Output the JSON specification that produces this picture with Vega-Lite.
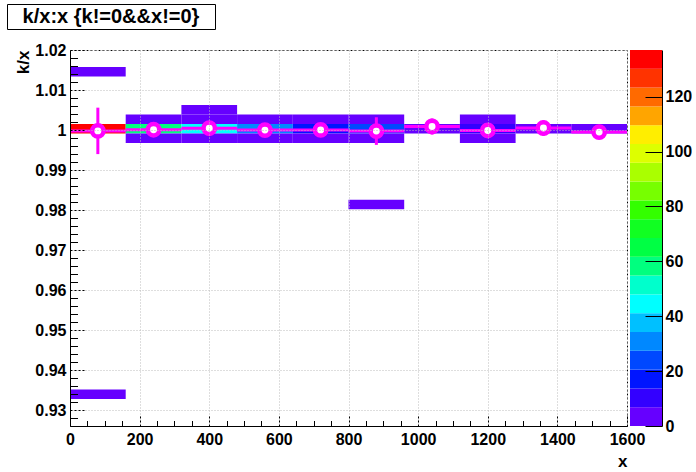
{
  "$schema": "https://vega.github.io/schema/vega-lite/v6.json",
  "padding": {"left": 6, "top": 3, "right": 0, "bottom": 0},
  "background": "white",
  "config": {
    "font": "Liberation Sans",
    "view": {"stroke": null},
    "axis": {
      "labelFont": "Liberation Sans", "labelFontWeight": "bold", "labelFontSize": 16, "labelColor": "black",
      "titleFont": "Liberation Sans", "titleFontWeight": "bold", "titleFontSize": 17, "titleColor": "black",
      "domainColor": "black", "tickColor": "black", "labelFlush": false, "labelOverlap": false
    }
  },
  "columns": 1,
  "spacing": 11,
  "concat": [
    {
      "width": 208, "height": 25,
      "view": {"stroke": "black", "strokeWidth": 1},
      "data": {"values": [{"t": "k/x:x {k!=0&&x!=0}"}]},
      "mark": {"type": "text", "font": "Liberation Sans", "fontWeight": "bold", "fontSize": 20, "color": "black"},
      "encoding": {"text": {"field": "t", "type": "nominal"}}
    },
    {
      "spacing": 3,
      "bounds": "flush",
      "hconcat": [
        {
          "width": 60, "height": 376,
          "data": {"values": []},
          "mark": {"type": "point", "opacity": 0}
        },
        {
          "width": 557, "height": 376,
          "view": {"stroke": "black", "strokeDash": [2, 2], "strokeWidth": 1},
          "resolve": {"axis": {"x": "independent", "y": "independent"}},
          "layer": [
            {
              "data": {"values": [
                {"xlo": 0, "xhi": 160, "ylo": 1.013376, "yhi": 1.015744, "count": 2},
                {"xlo": 0, "xhi": 160, "ylo": 0.999168, "yhi": 1.001536, "count": 136},
                {"xlo": 0, "xhi": 160, "ylo": 0.932864, "yhi": 0.935232, "count": 2},
                {"xlo": 160, "xhi": 320, "ylo": 1.001536, "yhi": 1.003904, "count": 4},
                {"xlo": 160, "xhi": 320, "ylo": 0.999168, "yhi": 1.001536, "count": 58},
                {"xlo": 160, "xhi": 320, "ylo": 0.9968, "yhi": 0.999168, "count": 4},
                {"xlo": 320, "xhi": 480, "ylo": 1.003904, "yhi": 1.006272, "count": 2},
                {"xlo": 320, "xhi": 480, "ylo": 1.001536, "yhi": 1.003904, "count": 5},
                {"xlo": 320, "xhi": 480, "ylo": 0.999168, "yhi": 1.001536, "count": 45},
                {"xlo": 320, "xhi": 480, "ylo": 0.9968, "yhi": 0.999168, "count": 4},
                {"xlo": 480, "xhi": 640, "ylo": 1.001536, "yhi": 1.003904, "count": 5},
                {"xlo": 480, "xhi": 640, "ylo": 0.999168, "yhi": 1.001536, "count": 31},
                {"xlo": 480, "xhi": 640, "ylo": 0.9968, "yhi": 0.999168, "count": 5},
                {"xlo": 640, "xhi": 800, "ylo": 1.001536, "yhi": 1.003904, "count": 4},
                {"xlo": 640, "xhi": 800, "ylo": 0.999168, "yhi": 1.001536, "count": 17},
                {"xlo": 640, "xhi": 800, "ylo": 0.9968, "yhi": 0.999168, "count": 3},
                {"xlo": 800, "xhi": 960, "ylo": 1.001536, "yhi": 1.003904, "count": 3},
                {"xlo": 800, "xhi": 960, "ylo": 0.999168, "yhi": 1.001536, "count": 24},
                {"xlo": 800, "xhi": 960, "ylo": 0.9968, "yhi": 0.999168, "count": 3},
                {"xlo": 800, "xhi": 960, "ylo": 0.980224, "yhi": 0.982592, "count": 1},
                {"xlo": 960, "xhi": 1120, "ylo": 0.999168, "yhi": 1.001536, "count": 5},
                {"xlo": 1120, "xhi": 1280, "ylo": 1.001536, "yhi": 1.003904, "count": 3},
                {"xlo": 1120, "xhi": 1280, "ylo": 0.999168, "yhi": 1.001536, "count": 10},
                {"xlo": 1120, "xhi": 1280, "ylo": 0.9968, "yhi": 0.999168, "count": 3},
                {"xlo": 1280, "xhi": 1440, "ylo": 0.999168, "yhi": 1.001536, "count": 5},
                {"xlo": 1440, "xhi": 1600, "ylo": 0.999168, "yhi": 1.001536, "count": 5}
              ]},
              "mark": {"type": "rect", "clip": true},
              "encoding": {
                "x": {"field": "xlo", "type": "quantitative",
                  "scale": {"domain": [0, 1600], "nice": false, "zero": false},
                  "axis": {"orient": "bottom", "values": [0, 200, 400, 600, 800, 1000, 1200, 1400, 1600], "format": "d",
                    "grid": true, "gridColor": "#bdbdbd", "gridDash": [1, 2], "gridWidth": 1,
                    "tickSize": -11, "tickDash": [2, 2], "tickWidth": 1, "labelPadding": 16,
                    "domain": true, "domainWidth": 1, "title": "x", "titleAnchor": "end", "titlePadding": 6, "zindex": 1}},
                "x2": {"field": "xhi"},
                "y": {"field": "ylo", "type": "quantitative",
                  "scale": {"domain": [0.92609, 1.02], "nice": false, "zero": false},
                  "axis": {"orient": "left", "values": [0.93, 0.94, 0.95, 0.96, 0.97, 0.98, 0.99, 1.0, 1.01, 1.02], "format": ".2~f",
                    "grid": true, "gridColor": "#bdbdbd", "gridDash": [1, 2], "gridWidth": 1,
                    "tickSize": -15, "tickDash": [2, 2], "tickWidth": 1, "labelPadding": 19,
                    "domain": true, "domainWidth": 1, "title": "k/x", "titleAnchor": "end", "titlePadding": 2, "zindex": 1}},
                "y2": {"field": "yhi"},
                "color": {"field": "count", "type": "quantitative",
                  "scale": {"type": "quantize", "domain": [0, 137], "nice": false,
                    "range": ["#6600ff", "#3300ff", "#0015ff", "#0048ff", "#0088ff", "#00c0ff", "#00ffff", "#00ffcc", "#00ff7f", "#00ff44", "#11ff22", "#33ff00", "#77ff00", "#aaff00", "#ddff00", "#ffee00", "#ffa500", "#ff6a00", "#ff3300", "#ff0000"]},
                  "legend": null}
              }
            },
            {
              "data": {"name": "prof", "values": [
                {"xc": 80, "xlo": 0, "xhi": 160, "mean": 0.9998, "elo": 0.994, "ehi": 1.0056},
                {"xc": 240, "xlo": 160, "xhi": 320, "mean": 1.0001, "elo": 0.9995, "ehi": 1.0007},
                {"xc": 400, "xlo": 320, "xhi": 480, "mean": 1.00046, "elo": 0.99986, "ehi": 1.00106},
                {"xc": 560, "xlo": 480, "xhi": 640, "mean": 1.0, "elo": 0.9994, "ehi": 1.0006},
                {"xc": 720, "xlo": 640, "xhi": 800, "mean": 1.00005, "elo": 0.99945, "ehi": 1.00065},
                {"xc": 880, "xlo": 800, "xhi": 960, "mean": 0.99975, "elo": 0.9963, "ehi": 1.0032},
                {"xc": 1040, "xlo": 960, "xhi": 1120, "mean": 1.0009, "elo": 0.9989, "ehi": 1.0029},
                {"xc": 1200, "xlo": 1120, "xhi": 1280, "mean": 0.9999, "elo": 0.9993, "ehi": 1.0005},
                {"xc": 1360, "xlo": 1280, "xhi": 1440, "mean": 1.0005, "elo": 0.9986, "ehi": 1.0024},
                {"xc": 1520, "xlo": 1440, "xhi": 1600, "mean": 0.9995, "elo": 0.9977, "ehi": 1.0013}
              ]},
              "mark": {"type": "rule", "color": "#ff00ff", "strokeWidth": 3},
              "encoding": {
                "x": {"field": "xlo", "type": "quantitative",
                  "axis": {"orient": "bottom", "values": [50, 100, 150, 250, 300, 350, 450, 500, 550, 650, 700, 750, 850, 900, 950, 1050, 1100, 1150, 1250, 1300, 1350, 1450, 1500, 1550],
                    "grid": false, "labels": false, "domain": false, "tickSize": -5.5, "tickWidth": 1, "title": null, "zindex": 1}},
                "x2": {"field": "xhi"},
                "y": {"field": "mean", "type": "quantitative",
                  "axis": {"orient": "left", "values": [0.928, 0.932, 0.934, 0.936, 0.938, 0.942, 0.944, 0.946, 0.948, 0.952, 0.954, 0.956, 0.958, 0.962, 0.964, 0.966, 0.968, 0.972, 0.974, 0.976, 0.978, 0.982, 0.984, 0.986, 0.988, 0.992, 0.994, 0.996, 0.998, 1.002, 1.004, 1.006, 1.008, 1.012, 1.014, 1.016, 1.018],
                    "grid": false, "labels": false, "domain": false, "tickSize": -7.5, "tickWidth": 1, "title": null, "zindex": 1}}
              }
            },
            {
              "data": {"name": "prof"},
              "mark": {"type": "rule", "color": "#ff00ff", "strokeWidth": 3},
              "encoding": {
                "x": {"field": "xc", "type": "quantitative", "axis": null},
                "y": {"field": "elo", "type": "quantitative", "axis": null},
                "y2": {"field": "ehi"}
              }
            },
            {
              "data": {"name": "prof"},
              "mark": {"type": "point", "shape": "circle", "filled": true, "fill": "white", "stroke": "#ff00ff", "strokeWidth": 4.5, "size": 130, "opacity": 1, "fillOpacity": 1, "strokeOpacity": 1},
              "encoding": {
                "x": {"field": "xc", "type": "quantitative", "axis": null},
                "y": {"field": "mean", "type": "quantitative", "axis": null}
              }
            }
          ]
        },
        {
          "width": 32, "height": 376,
          "data": {"values": [
            {"lo": 0, "hi": 6.85, "count": 3.4},
            {"lo": 6.85, "hi": 13.7, "count": 10.3},
            {"lo": 13.7, "hi": 20.55, "count": 17.1},
            {"lo": 20.55, "hi": 27.4, "count": 24},
            {"lo": 27.4, "hi": 34.25, "count": 30.8},
            {"lo": 34.25, "hi": 41.1, "count": 37.7},
            {"lo": 41.1, "hi": 47.95, "count": 44.5},
            {"lo": 47.95, "hi": 54.8, "count": 51.4},
            {"lo": 54.8, "hi": 61.65, "count": 58.2},
            {"lo": 61.65, "hi": 68.5, "count": 65.1},
            {"lo": 68.5, "hi": 75.35, "count": 71.9},
            {"lo": 75.35, "hi": 82.2, "count": 78.8},
            {"lo": 82.2, "hi": 89.05, "count": 85.6},
            {"lo": 89.05, "hi": 95.9, "count": 92.5},
            {"lo": 95.9, "hi": 102.75, "count": 99.3},
            {"lo": 102.75, "hi": 109.6, "count": 106.2},
            {"lo": 109.6, "hi": 116.45, "count": 113},
            {"lo": 116.45, "hi": 123.3, "count": 119.9},
            {"lo": 123.3, "hi": 130.15, "count": 126.7},
            {"lo": 130.15, "hi": 137, "count": 133.6}
          ]},
          "mark": {"type": "rect"},
          "encoding": {
            "y": {"field": "lo", "type": "quantitative",
              "scale": {"domain": [0, 137], "nice": false, "zero": false},
              "axis": {"orient": "right", "values": [0, 20, 40, 60, 80, 100, 120], "format": "d",
                "tickSize": -17, "tickWidth": 1, "labelPadding": 20, "grid": false, "title": null,
                "domain": true, "domainWidth": 1, "zindex": 1}},
            "y2": {"field": "hi"},
            "color": {"field": "count", "type": "quantitative",
              "scale": {"type": "quantize", "domain": [0, 137], "nice": false,
                "range": ["#6600ff", "#3300ff", "#0015ff", "#0048ff", "#0088ff", "#00c0ff", "#00ffff", "#00ffcc", "#00ff7f", "#00ff44", "#11ff22", "#33ff00", "#77ff00", "#aaff00", "#ddff00", "#ffee00", "#ffa500", "#ff6a00", "#ff3300", "#ff0000"]},
              "legend": null}
          }
        }
      ]
    }
  ]
}
